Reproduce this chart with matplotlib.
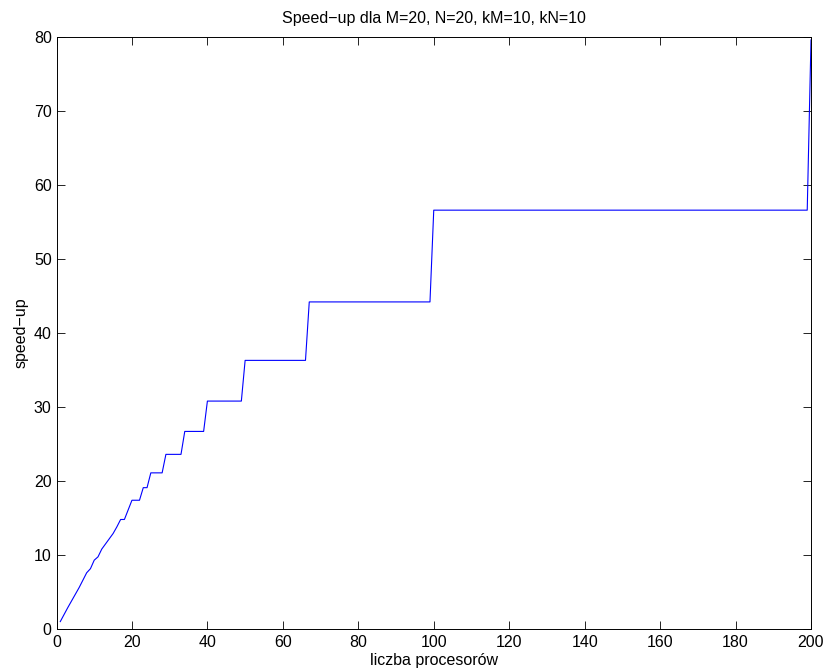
import matplotlib
matplotlib.use("Agg")
import matplotlib.pyplot as plt

plt.rcParams["font.family"] = ["Liberation Sans", "DejaVu Sans"]

# liczba procesorow (corner points)
procs = [1, 2, 3, 4, 5, 6, 7, 8, 9, 10, 11, 12, 13, 14, 15, 16, 17, 18, 19,
         20, 22, 23, 24, 25, 28, 29, 33, 34, 39, 40, 49, 50, 66, 67, 99,
         100, 199, 200]
speedup = [1.0, 1.95, 2.9, 3.8, 4.7, 5.6, 6.6, 7.6, 8.15, 9.3, 9.75, 10.8,
           11.5, 12.2, 12.9, 13.8, 14.8, 14.8, 16.1,
           17.4, 17.4, 19.1, 19.1, 21.1, 21.1, 23.6, 23.6, 26.7, 26.7,
           30.8, 30.8, 36.3, 36.3, 44.2, 44.2,
           56.6, 56.6, 79.6]

x_ticks = list(range(0, 201, 20))
y_ticks = list(range(0, 81, 10))

FS = 11.5

fig = plt.figure(figsize=(8.26, 6.72), dpi=100)
ax = fig.add_axes([56.5 / 826, 1 - 629 / 672, (811 - 56.5) / 826, (629 - 37) / 672])

ax.plot(procs, speedup, color="#0000ff", linewidth=0.8)

ax.set_xlim(0, 200)
ax.set_ylim(0, 80)
ax.set_xticks(x_ticks)
ax.set_yticks(y_ticks)
ax.tick_params(direction="in", length=5.5, width=0.6, top=True, right=True,
               labelsize=FS)
ax.tick_params(axis="x", pad=4.5)
ax.tick_params(axis="y", pad=3.5)
for sp in ax.spines.values():
    sp.set_linewidth(0.7)

ax.set_title("Speed\u2212up dla M=20, N=20, kM=10, kN=10", fontsize=FS, pad=10)
ax.set_xlabel("liczba procesorów", fontsize=FS, labelpad=2)
ax.set_ylabel("speed\u2212up", fontsize=FS, labelpad=4)

fig.savefig("out.png", dpi=100)
